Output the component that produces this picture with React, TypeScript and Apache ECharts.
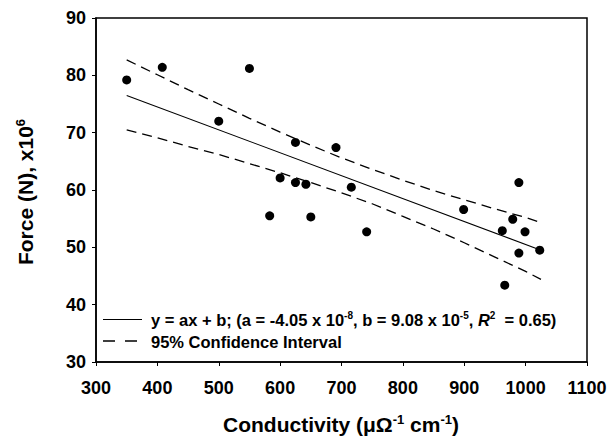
import React, { useEffect, useRef } from "react";
import * as echarts from "echarts";

const conductivity = [350, 408, 500, 550, 583, 600, 625, 625, 642, 650, 691, 716, 741, 899, 962, 966, 979, 989, 989, 999, 1023];
const force = [79.2, 81.4, 72.0, 81.2, 55.5, 62.1, 68.3, 61.3, 61.0, 55.3, 67.4, 60.5, 52.7, 56.6, 52.9, 43.4, 54.9, 61.3, 49.0, 52.7, 49.5];

const fitX = [350, 1025];
const fitY = [76.5, 49.5];

const bandX = [350, 400, 450, 500, 550, 600, 650, 700, 750, 800, 850, 900, 950, 1000, 1025];
const bandUpper = [82.7, 80.1, 77.5, 75.0, 72.5, 70.1, 67.8, 65.6, 63.6, 61.7, 59.9, 58.3, 56.7, 55.2, 54.3];
const bandLower = [70.5, 69.1, 67.6, 66.2, 64.6, 63.0, 61.3, 59.5, 57.6, 55.4, 53.2, 50.8, 48.3, 45.8, 44.4];

const xTicks = { min: 300, max: 1100, interval: 100 };
const yTicks = { min: 30, max: 90, interval: 10 };

const FONT = "'Liberation Sans', Arial, Helvetica, sans-serif";

export default function App() {
  const ref = useRef<HTMLDivElement>(null);
  useEffect(() => {
    if (!ref.current) return;
    const chart = echarts.init(ref.current, undefined, { renderer: "svg" });
    const zip = (xs: number[], ys: number[]) => xs.map((x, i) => [x, ys[i]]);
    const supRich = (size: number) => ({
      n: { fontSize: size, fontWeight: "bold", fontFamily: FONT, color: "#000", lineHeight: size + 2 },
      i: { fontSize: size, fontWeight: "bold", fontStyle: "italic", fontFamily: FONT, color: "#000", lineHeight: size + 2 },
      s: { fontSize: Math.round(size * 0.62), fontWeight: "bold", fontFamily: FONT, color: "#000", lineHeight: Math.round(size * 0.62), verticalAlign: "top" },
    });
    chart.setOption({
      animation: false,
      backgroundColor: "#fff",
      grid: { left: 96, right: 26, top: 18, bottom: 76, show: true, borderColor: "#000", borderWidth: 1.5, containLabel: false },
      xAxis: {
        type: "value",
        min: xTicks.min,
        max: xTicks.max,
        interval: xTicks.interval,
        axisLine: { show: true, lineStyle: { color: "#000", width: 1.5 } },
        axisTick: { show: true, inside: false, length: 4, lineStyle: { color: "#000", width: 1 } },
        splitLine: { show: false },
        axisLabel: { margin: 17, fontSize: 18, fontWeight: "bold", fontFamily: FONT, color: "#000", formatter: (v: number) => String(v) },
      },
      yAxis: {
        type: "value",
        min: yTicks.min,
        max: yTicks.max,
        interval: yTicks.interval,
        axisLine: { show: true, lineStyle: { color: "#000", width: 1.5 } },
        axisTick: { show: true, inside: false, length: 4, lineStyle: { color: "#000", width: 1 } },
        splitLine: { show: false },
        axisLabel: { margin: 10, fontSize: 18, fontWeight: "bold", fontFamily: FONT, color: "#000", formatter: (v: number) => String(v) },
      },
      series: [
        {
          type: "line",
          data: zip(fitX, fitY),
          symbol: "none",
          lineStyle: { color: "#000", width: 1.1 },
          z: 2,
        },
        {
          type: "line",
          data: zip(bandX, bandUpper),
          symbol: "none",
          lineStyle: { color: "#000", width: 1.3, type: [10, 6] },
          z: 2,
        },
        {
          type: "line",
          data: zip(bandX, bandLower),
          symbol: "none",
          lineStyle: { color: "#000", width: 1.3, type: [10, 6] },
          z: 2,
        },
        {
          type: "scatter",
          data: zip(conductivity, force),
          symbol: "circle",
          symbolSize: 9,
          itemStyle: { color: "#000", opacity: 1 },
          z: 3,
        },
      ],
      graphic: [
        { type: "line", shape: { x1: 103, y1: 319.5, x2: 142, y2: 319.5 }, style: { stroke: "#000", lineWidth: 1.1 } },
        { type: "line", shape: { x1: 103, y1: 341, x2: 142, y2: 341 }, style: { stroke: "#000", lineWidth: 1.3, lineDash: [12, 10] } },
        {
          type: "text",
          x: 151,
          y: 320,
          style: {
            text: "{n|y = ax + b; (a = -4.05 x 10}{s|-8}{n|, b = 9.08 x 10}{s|-5}{n|, }{i|R}{s|2}{n|  = 0.65)}",
            rich: supRich(16.5),
            textAlign: "left",
            textVerticalAlign: "middle",
            align: "left",
            verticalAlign: "middle",
          },
        },
        {
          type: "text",
          x: 151,
          y: 341.5,
          style: {
            text: "{n|95% Confidence Interval}",
            rich: supRich(16.5),
            textAlign: "left",
            textVerticalAlign: "middle",
            align: "left",
            verticalAlign: "middle",
          },
        },
        {
          type: "text",
          x: 341,
          y: 424,
          style: {
            text: "{n|Conductivity (μΩ}{s|-1}{n| cm}{s|-1}{n|)}",
            rich: supRich(21),
            textAlign: "center",
            textVerticalAlign: "middle",
            align: "center",
            verticalAlign: "middle",
          },
        },
        {
          type: "text",
          x: 25,
          y: 192,
          rotation: Math.PI / 2,
          style: {
            text: "{n|Force (N), x10}{s|6}",
            rich: supRich(21),
            textAlign: "center",
            textVerticalAlign: "middle",
            align: "center",
            verticalAlign: "middle",
          },
        },
      ],
    });
    return () => chart.dispose();
  }, []);
  return <div ref={ref} style={{ position: "fixed", left: 0, top: 0, width: 613, height: 438 }} />;
}
